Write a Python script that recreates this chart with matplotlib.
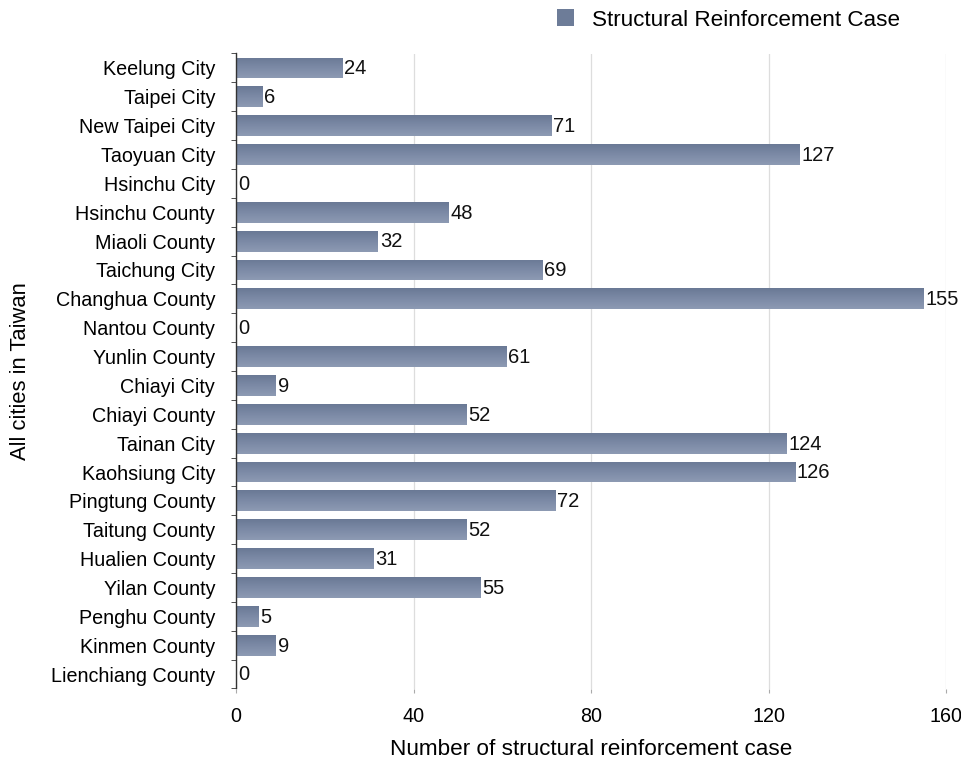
import numpy as np
import matplotlib.pyplot as plt
from matplotlib.colors import LinearSegmentedColormap
from matplotlib.patches import Patch

plt.rcParams['font.family'] = ['Liberation Sans', 'DejaVu Sans']

cities = ['Keelung City', 'Taipei City', 'New Taipei City', 'Taoyuan City',
          'Hsinchu City', 'Hsinchu County', 'Miaoli County', 'Taichung City',
          'Changhua County', 'Nantou County', 'Yunlin County', 'Chiayi City',
          'Chiayi County', 'Tainan City', 'Kaohsiung City', 'Pingtung County',
          'Taitung County', 'Hualien County', 'Yilan County', 'Penghu County',
          'Kinmen County', 'Lienchiang County']
cases = [24, 6, 71, 127, 0, 48, 32, 69, 155, 0, 61, 9, 52, 124, 126, 72,
         52, 31, 55, 5, 9, 0]
x_ticks = [0, 40, 80, 120, 160]

fig = plt.figure(figsize=(9.61, 7.64), dpi=100)
ax = fig.add_axes([236 / 961, 1 - 688.5 / 764, (946 - 236) / 961, (688.5 - 53.5) / 764])

y = np.arange(len(cities))
bar_h = 0.72
bars = ax.barh(y, cases, height=bar_h, color='#7886a2', edgecolor='none', zorder=2)

# soft vertical gradient on each bar
cmap = LinearSegmentedColormap.from_list('steel', ['#6a7995', '#7c8aa6', '#8d9ab3'])
grad = np.linspace(0, 1, 50).reshape(-1, 1)
for b, v in zip(bars, cases):
    if v <= 0:
        continue
    x0, y0 = b.get_x(), b.get_y()
    im = ax.imshow(grad, cmap=cmap, aspect='auto', zorder=3,
                   extent=[x0, x0 + b.get_width(), y0 + b.get_height(), y0],
                   origin='upper')
    im.set_clip_path(b)

for yi, v in zip(y, cases):
    ax.text(v + 0.4, yi + 0.03, str(v), va='center', ha='left', fontsize=14.5,
            color='#111111', zorder=4)

ax.set_xlim(0, 160)
ax.set_ylim(len(cities) - 0.5, -0.5)
ax.set_yticks(y)
ax.set_yticklabels(cities, fontsize=14.2)
ax.set_yticks(np.arange(-0.5, len(cities)), minor=True)
ax.tick_params(axis='y', which='major', length=0, pad=15)
ax.tick_params(axis='y', which='minor', length=3.5, direction='out', color='#333333')
ax.set_xticks(x_ticks)
ax.tick_params(axis='x', length=3, color='#aaaaaa', labelsize=14.2, pad=10)

ax.grid(axis='x', color='#dddddd', linewidth=0.9, zorder=0)
for s in ['top', 'right', 'bottom']:
    ax.spines[s].set_visible(False)
ax.spines['left'].set_color('#333333')
ax.spines['left'].set_linewidth(1.0)
ax.spines['left'].set_zorder(5)

ax.set_xlabel('Number of structural reinforcement case', fontsize=16.2, labelpad=10)
ax.set_ylabel('All cities in Taiwan', fontsize=15.8)
ax.yaxis.set_label_coords(-205 / 710, 0.5)

handle = Patch(facecolor='#6d7c98', edgecolor='none')
fig.legend([handle], ['Structural Reinforcement Case'], loc='center left',
           bbox_to_anchor=(537 / 961, 1 - 20 / 764), frameon=False,
           fontsize=16.2, handlelength=0.75, handleheight=0.75, handletextpad=0.8)

fig.savefig('out.png', dpi=100)
